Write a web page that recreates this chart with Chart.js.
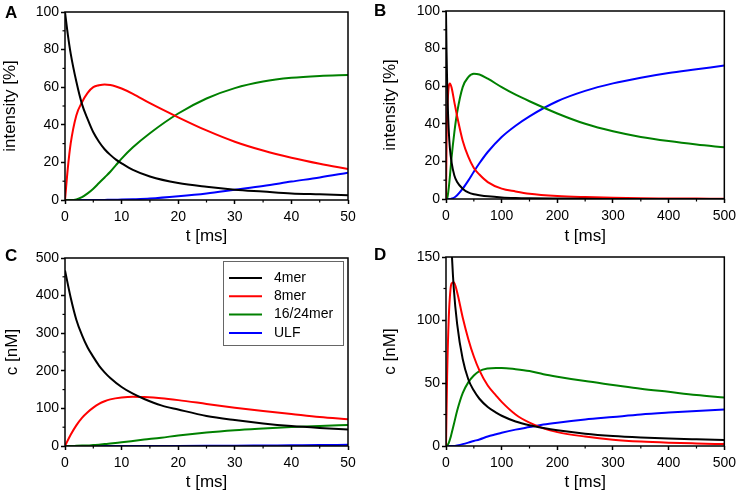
<!DOCTYPE html>
<html>
<head>
<meta charset="utf-8">
<script src="https://cdn.jsdelivr.net/npm/chart.js@4.4.1/dist/chart.umd.min.js"></script>
<style>
  body { margin: 0; background: #fff; }
  #wrap { position: relative; width: 741px; height: 491px; overflow: hidden; }
  canvas { position: absolute; }
  .tag { position: absolute; font: bold 17px 'Liberation Sans', Arial, sans-serif; line-height: 17px; color: #000; }
</style>
</head>
<body>
<div id="wrap">
  <canvas id="cA" width="370" height="245" style="left:0;top:0"></canvas>
  <canvas id="cB" width="371" height="245" style="left:370px;top:0"></canvas>
  <canvas id="cC" width="370" height="246" style="left:0;top:245px"></canvas>
  <canvas id="cD" width="371" height="246" style="left:370px;top:245px"></canvas>
  <div class="tag" style="left:5px;top:4px">A</div>
  <div class="tag" style="left:374px;top:2px">B</div>
  <div class="tag" style="left:5px;top:247px">C</div>
  <div class="tag" style="left:374px;top:246px">D</div>
</div>
<script>
// series names and colours
const seriesNames = ['4mer', '8mer', '16/24mer', 'ULF'];
const seriesColors = ['#000000', '#ff0000', '#008000', '#0000ff'];

// A: intensity [%], first 50 ms
const tA = [0, 0.5, 1, 2, 3, 4, 5, 6, 7, 8, 9, 10, 12, 15, 20, 25, 30, 35, 40, 45, 50];
const a4mer = [100, 88, 78, 63, 51, 43, 36, 31, 27, 24, 21.5, 19.5, 16, 12.5, 9, 7, 5.5, 4.5, 3.5, 3, 2.5];
const a8mer = [0, 17, 30, 45, 52, 57, 60, 61, 61.5, 61.2, 60.4, 59.3, 56.5, 51.5, 44, 37, 31, 26.3, 22.5, 19.3, 16.5];
const a16mer = [0, 0, 0, 0.3, 1.5, 3.5, 6, 9, 12, 15, 18.5, 22, 28, 35.5, 46, 54, 59.5, 63, 65, 66, 66.5];
const aULF = [0, 0, 0, 0, 0, 0, 0, 0, 0.05, 0.1, 0.15, 0.2, 0.4, 0.8, 2, 3.5, 5.5, 7.5, 9.8, 12, 14.5];

// B: intensity [%], 500 ms
const tB = [0, 1, 2, 3, 5, 7, 10, 15, 20, 30, 40, 50, 60, 75, 100, 125, 150, 200, 250, 300, 350, 400, 450, 500];
const b4mer = [100, 78, 63, 51, 36, 27, 19.5, 12.5, 9, 5.5, 3.5, 2.5, 2, 1.4, 0.8, 0.5, 0.35, 0.2, 0.1, 0.05, 0, 0, 0, 0];
const b8mer = [0, 30, 45, 52, 60, 61.5, 59.3, 51.5, 44, 31, 22.5, 16.5, 13, 9, 5.5, 4, 2.8, 1.6, 1, 0.6, 0.4, 0.3, 0.2, 0.1];
const b16mer = [0, 0, 0.3, 1.5, 6, 12, 22, 35.5, 46, 59.5, 64.8, 66.6, 66.2, 64, 59.5, 55.5, 52, 45.5, 40, 36, 33, 30.8, 29, 27.5];
const bULF = [0, 0, 0, 0, 0, 0, 0.2, 0.8, 2, 5.5, 9.8, 14.5, 19, 25, 33, 39, 44, 52, 57.5, 61.5, 64.5, 67, 69, 71];

// C: c [nM], first 50 ms
const tC = [0, 1, 2, 3, 4, 5, 6, 7, 8, 10, 12, 14, 17, 20, 25, 30, 35, 40, 45, 50];
const c4mer = [467, 395, 336, 295, 262, 237, 214, 196, 181, 157, 139, 125, 108, 97, 80, 69, 60, 53, 48, 44];
const c8mer = [0, 30, 55, 75, 90, 102, 112, 119, 124, 129, 131, 130, 127, 122, 112, 102, 93, 85, 77, 71];
const c16mer = [0, 0, 0.5, 1, 1.5, 2.5, 3.5, 5, 6.5, 10, 13.5, 17, 22, 28, 36, 42, 46.5, 50.5, 53.5, 56];
const cULF = [0, 0, 0, 0, 0, 0, 0, 0, 0, 0, 0, 0, 0.1, 0.2, 0.5, 0.9, 1.4, 1.9, 2.4, 3];

// D: c [nM], 500 ms
const tD = [0, 2, 5, 8, 10, 14, 20, 30, 40, 50, 60, 75, 90, 100, 125, 150, 175, 200, 250, 300, 350, 400, 450, 500];
const d4mer = [467, 336, 237, 181, 157, 125, 97, 69, 53, 44, 37.5, 31, 26.5, 24, 19.5, 16.5, 14.3, 12.5, 9.8, 8, 6.8, 5.9, 5.3, 4.8];
const d8mer = [0, 55, 102, 124, 129, 130, 122, 102, 85, 71, 60, 48, 40, 35, 25, 18.5, 14, 11, 7.5, 5, 3.5, 2.6, 2, 1.5];
const d16mer = [0, 0.5, 2.5, 6.5, 10, 17, 28, 42, 50.5, 56, 59.5, 61.5, 62, 62, 61, 59.5, 57, 55, 51.5, 48.5, 45.5, 43, 40.5, 38.5];
const dULF = [0, 0, 0, 0, 0, 0, 0.5, 1.5, 2.7, 4, 5.2, 7.5, 9.3, 10.5, 13, 15, 17, 18.5, 21, 23, 25, 26.5, 27.8, 29];

Chart.defaults.font.family = "'Liberation Sans', Arial, sans-serif";
Chart.defaults.color = '#000';

const framePlugin = {
    id: 'frame',
    afterDatasetsDraw(chart) {
        const a = chart.chartArea, ctx = chart.ctx;
        ctx.save();
        ctx.strokeStyle = '#000';
        ctx.lineWidth = 1.5;
        ctx.strokeRect(a.left, a.top, a.right - a.left, a.bottom - a.top);
        ctx.restore();
    }
};

// small ticks half way between the labelled ones
const minorTicks = {
    id: 'minorTicks',
    afterDraw(chart) {
        const ctx = chart.ctx;
        ctx.save();
        ctx.strokeStyle = '#000';
        ctx.lineWidth = 1.2;
        ['x', 'y'].forEach(function(id) {
            const s = chart.scales[id];
            const step = s.options.ticks.stepSize;
            for (let v = s.min + step / 2; v < s.max; v += step) {
                const p = s.getPixelForValue(v);
                ctx.beginPath();
                if (id === 'x') {
                    ctx.moveTo(p, s.top);
                    ctx.lineTo(p, s.top + 2.5);
                } else {
                    ctx.moveTo(s.right, p);
                    ctx.lineTo(s.right - 2.5, p);
                }
                ctx.stroke();
            }
        });
        ctx.restore();
    }
};

const boxLegend = {
    id: 'boxLegend',
    afterDraw(chart) {
        const ctx = chart.ctx;
        ctx.save();
        ctx.fillStyle = '#fff';
        ctx.fillRect(223.5, 16.5, 120, 84);
        ctx.strokeStyle = '#666';
        ctx.lineWidth = 1;
        ctx.strokeRect(223.5, 16.5, 120, 84);
        ctx.font = "14px 'Liberation Sans', Arial, sans-serif";
        ctx.textBaseline = 'middle';
        chart.data.datasets.forEach(function(ds, i) {
            const y = 33 + i * 18.3;
            ctx.strokeStyle = ds.borderColor;
            ctx.lineWidth = 2;
            ctx.beginPath();
            ctx.moveTo(229, y);
            ctx.lineTo(262, y);
            ctx.stroke();
            ctx.fillStyle = '#000';
            ctx.fillText(ds.label, 274, y);
        });
        ctx.restore();
    }
};

function makePanel(id, t, values, xMax, xStep, yMax, yStep, yTitle, box, withLegend) {
    const datasets = values.map(function(v, i) {
        return {
            label: seriesNames[i],
            data: t.map(function(x, j) { return {x: x, y: v[j]}; }),
            borderColor: seriesColors[i],
            borderWidth: 2,
            pointRadius: 0,
            cubicInterpolationMode: 'monotone',
            clip: 0
        };
    });
    const plugins = [framePlugin, minorTicks];
    if (withLegend) plugins.push(boxLegend);
    return new Chart(document.getElementById(id), {
        type: 'line',
        data: {datasets: datasets},
        plugins: plugins,
        options: {
            responsive: false,
            animation: false,
            events: [],
            layout: {padding: {top: box.top, right: box.right, left: 0, bottom: 0}},
            plugins: {legend: {display: false}, tooltip: {enabled: false}},
            scales: {
                x: {
                    type: 'linear',
                    min: 0, max: xMax,
                    afterFit: function(s) { s.height = box.xh; },
                    border: {display: false},
                    grid: {drawOnChartArea: false, tickLength: 4, tickWidth: 1.5, tickColor: '#000'},
                    ticks: {stepSize: xStep * 2, padding: 5, maxRotation: 0, font: {size: 14}},
                    title: {display: true, text: 't [ms]', font: {size: 17, lineHeight: 1}, padding: {top: 0, bottom: 0}}
                },
                y: {
                    min: 0, max: yMax,
                    afterFit: function(s) { s.width = box.yw; },
                    border: {display: false},
                    grid: {drawOnChartArea: false, tickLength: 4, tickWidth: 1.5, tickColor: '#000'},
                    ticks: {stepSize: yStep * 2, padding: 2, font: {size: 14}},
                    title: {display: true, text: yTitle, font: {size: 17, lineHeight: 1}, padding: {top: box.tp, bottom: 0}}
                }
            }
        }
    });
}

makePanel('cA', tA, [a4mer, a8mer, a16mer, aULF], 50, 5, 100, 10, 'intensity [%]',
    {top: 12, right: 22, xh: 45, yw: 65, tp: 2}, false);
makePanel('cB', tB, [b4mer, b8mer, b16mer, bULF], 500, 50, 100, 10, 'intensity [%]',
    {top: 11, right: 12, xh: 46, yw: 76, tp: 12}, false);
makePanel('cC', tC, [c4mer, c8mer, c16mer, cULF], 50, 5, 500, 50, 'c [nM]',
    {top: 13, right: 22, xh: 45, yw: 65, tp: 4}, true);
makePanel('cD', tD, [d4mer, d8mer, d16mer, dULF], 500, 50, 150, 25, 'c [nM]',
    {top: 12, right: 12, xh: 45, yw: 76, tp: 12}, false);
</script>
</body>
</html>
